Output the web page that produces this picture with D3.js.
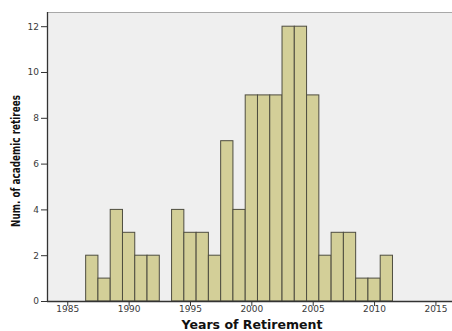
<!DOCTYPE html>
<html>
<head>
<meta charset="utf-8">
<script src="https://cdn.jsdelivr.net/npm/d3@7"></script>
<style>
  html, body { margin: 0; padding: 0; background: #ffffff; }
  svg { display: block; }
</style>
</head>
<body>
<svg id="chart" width="452" height="331"></svg>
<script>
// Retirements per year (histogram, one-year bins centred on the year)
const years = [1987, 1988, 1989, 1990, 1991, 1992, 1993, 1994, 1995, 1996, 1997, 1998,
               1999, 2000, 2001, 2002, 2003, 2004, 2005, 2006, 2007, 2008, 2009, 2010, 2011];
const counts = [2, 1, 4, 3, 2, 2, 0, 4, 3, 3, 2, 7,
                4, 9, 9, 9, 12, 12, 9, 2, 3, 3, 1, 1, 2];
const xTicks = [1985, 1990, 1995, 2000, 2005, 2010, 2015];
const yTicks = [0, 2, 4, 6, 8, 10, 12];

const svg = d3.select("#chart");
const plotLeft = 47, plotRight = 452, plotTop = 12, plotBottom = 301;

const x = d3.scaleLinear().domain([1983.35, 2016.35]).range([plotLeft, plotRight]);
const y = d3.scaleLinear().domain([0, 12.62]).range([plotBottom, plotTop]);

// plot background
svg.append("rect")
  .attr("x", plotLeft).attr("y", plotTop)
  .attr("width", plotRight - plotLeft).attr("height", plotBottom - plotTop)
  .attr("fill", "#efefef");
svg.append("line")
  .attr("x1", plotLeft).attr("x2", plotRight).attr("y1", plotTop + 0.5).attr("y2", plotTop + 0.5)
  .attr("stroke", "#a8a8a8").attr("stroke-width", 1);

// bars
const bins = years.map((yr, i) => ({ year: yr, n: counts[i] })).filter(d => d.n > 0);
svg.append("g").selectAll("rect")
  .data(bins)
  .join("rect")
  .attr("x", d => x(d.year - 0.5))
  .attr("y", d => y(d.n))
  .attr("width", d => x(d.year + 0.5) - x(d.year - 0.5))
  .attr("height", d => y(0) - y(d.n))
  .attr("fill", "#d3cf98")
  .attr("stroke", "#4e4d40")
  .attr("stroke-width", 1);

// axes
const xAxis = d3.axisBottom(x).tickValues(xTicks).tickFormat(d3.format("d"))
  .tickSize(5).tickSizeOuter(0);
const yAxis = d3.axisLeft(y).tickValues(yTicks).tickSize(6).tickSizeOuter(0);

const gx = svg.append("g").attr("transform", `translate(0,${plotBottom})`).call(xAxis);
const gy = svg.append("g").attr("transform", `translate(${plotLeft},0)`).call(yAxis);

gx.select(".domain").attr("d", `M${plotLeft},0.5H${plotRight}`);
gy.select(".domain").attr("d", `M0.5,${plotTop}V${plotBottom}`);
[gx, gy].forEach(g => {
  g.selectAll(".domain").attr("stroke", "#333").attr("stroke-width", 1.3);
  g.selectAll(".tick line").attr("stroke", "#333").attr("stroke-width", 1);
  g.selectAll(".tick text")
    .attr("fill", "#3a3a3a")
    .style("font-family", "'DejaVu Sans', sans-serif")
    .style("font-size", "9px");
});
gx.selectAll(".tick text").attr("dy", "0.6em").attr("y", 6);
gy.selectAll(".tick text").attr("x", -8);

// axis titles
svg.append("text")
  .attr("x", 252).attr("y", 329)
  .attr("text-anchor", "middle")
  .attr("textLength", 141)
  .attr("lengthAdjust", "spacingAndGlyphs")
  .style("font-family", "'DejaVu Sans', sans-serif")
  .style("font-weight", "bold")
  .style("font-size", "12px")
  .attr("fill", "#111")
  .text("Years of Retirement");

svg.append("text")
  .attr("transform", "translate(20,161) rotate(-90)")
  .attr("text-anchor", "middle")
  .attr("textLength", 132)
  .attr("lengthAdjust", "spacingAndGlyphs")
  .style("font-family", "'Liberation Sans Narrow', 'DejaVu Sans Condensed', sans-serif")
  .style("font-weight", "bold")
  .style("font-size", "12px")
  .attr("fill", "#111")
  .text("Num. of academic retirees");
</script>
</body>
</html>
